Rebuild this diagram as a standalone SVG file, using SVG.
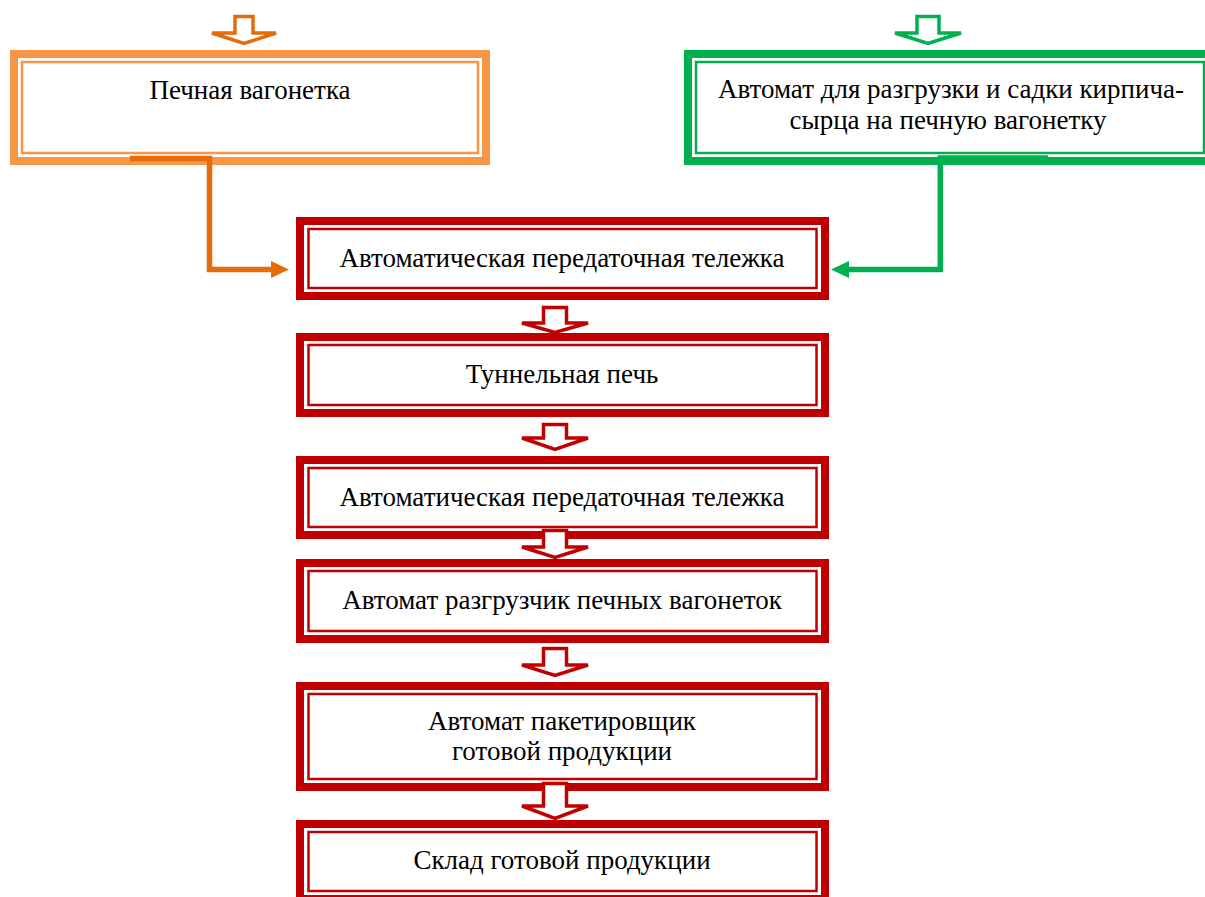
<svg xmlns="http://www.w3.org/2000/svg" width="1205" height="897" viewBox="0 0 1205 897">
<style>
  .t { font-family: 'Liberation Serif', 'Times New Roman', serif; font-size: 27px; fill: #000; text-anchor: middle; }
  .rb { fill: #fff; stroke: #C00000; }
  .ob { fill: #fff; stroke: #F79646; }
  .gb { fill: #fff; stroke: #00B050; }
  .thick { stroke-width: 8; }
  .thin { fill: none; stroke-width: 2.5; }
  .ra { fill: #fff; stroke: #C00000; stroke-width: 3.5; stroke-linejoin: miter; }
  .oa { fill: #fff; stroke: #E46C0A; stroke-width: 3.5; stroke-linejoin: miter; }
  .ga { fill: #fff; stroke: #00B050; stroke-width: 3.5; stroke-linejoin: miter; }
</style>
<rect width="1205" height="897" fill="#fff"/>

<g id="node-pechnaya-vagonetka">
  <rect class="ob thick" x="14" y="54" width="472" height="107"/>
  <rect class="ob thin" x="22" y="62" width="456" height="91"/>
  <text class="t" x="250" y="98.5">Печная вагонетка</text>
</g>

<g id="node-avtomat-razgruzki">
  <rect class="gb thick" x="688" y="54" width="524" height="107"/>
  <rect class="gb thin" x="696" y="62" width="508" height="91"/>
  <text class="t" x="951" y="98">Автомат для разгрузки и садки кирпича-</text>
  <text class="t" x="948" y="129">сырца на печную вагонетку</text>
</g>

<g id="node-telezhka-1">
  <rect class="rb thick" x="300" y="221" width="525" height="75"/>
  <rect class="rb thin" x="308.5" y="229" width="508" height="59"/>
  <text class="t" x="562" y="267">Автоматическая передаточная тележка</text>
</g>

<g id="node-tunnel">
  <rect class="rb thick" x="300" y="337" width="525" height="76"/>
  <rect class="rb thin" x="308.5" y="345" width="508" height="60"/>
  <text class="t" x="562" y="383">Туннельная печь</text>
</g>

<g id="node-telezhka-2">
  <rect class="rb thick" x="300" y="460" width="525" height="75"/>
  <rect class="rb thin" x="308.5" y="468" width="508" height="59"/>
  <text class="t" x="562" y="506">Автоматическая передаточная тележка</text>
</g>

<g id="node-razgruzchik">
  <rect class="rb thick" x="300" y="563" width="525" height="76"/>
  <rect class="rb thin" x="308.5" y="571" width="508" height="60"/>
  <text class="t" x="562" y="609">Автомат разгрузчик печных вагонеток</text>
</g>

<g id="node-paketirovshchik">
  <rect class="rb thick" x="300" y="686" width="525" height="101"/>
  <rect class="rb thin" x="308.5" y="694" width="508" height="85"/>
  <text class="t" x="562" y="729.5">Автомат пакетировщик</text>
  <text class="t" x="562" y="760">готовой продукции</text>
</g>

<g id="node-sklad">
  <rect class="rb thick" x="300" y="824" width="525" height="75"/>
  <rect class="rb thin" x="308.5" y="832" width="508" height="59"/>
  <text class="t" x="562" y="869">Склад готовой продукции</text>
</g>

<g id="connectors">
  <polygon class="oa" points="235,16.5 253,16.5 253,33 276,33 244,43.5 212,33 235,33"/>
  <polygon class="ga" points="917,16.5 939,16.5 939,33 961,33 928,43.5 895,33 917,33"/>

  <polyline points="130,158.5 209.5,158.5 209.5,269.5 272,269.5" fill="none" stroke="#E46C0A" stroke-width="5.5" stroke-linejoin="miter"/>
  <polygon points="271,261 289,269.5 271,278" fill="#E46C0A"/>

  <polyline points="1048,158 940.3,158 940.3,269.5 848,269.5" fill="none" stroke="#00B050" stroke-width="5.5" stroke-linejoin="miter"/>
  <polygon points="849,261 831,269.5 849,278" fill="#00B050"/>

  <polygon class="ra" points="543.5,307.5 566.5,307.5 566.5,323 588,323 555,332.5 522,323 543.5,323"/>
  <polygon class="ra" points="543.5,424.5 566.5,424.5 566.5,438 588,438 555,449.5 522,438 543.5,438"/>
  <polygon class="ra" points="543.5,530.5 566.5,530.5 566.5,547 588,547 555,557.5 522,547 543.5,547"/>
  <polygon class="ra" points="543.5,648.5 566.5,648.5 566.5,665 588,665 555,675.5 522,665 543.5,665"/>
  <polygon class="ra" points="543.5,783.5 566.5,783.5 566.5,806 588,806 555,818.5 522,806 543.5,806"/>
</g>
</svg>
